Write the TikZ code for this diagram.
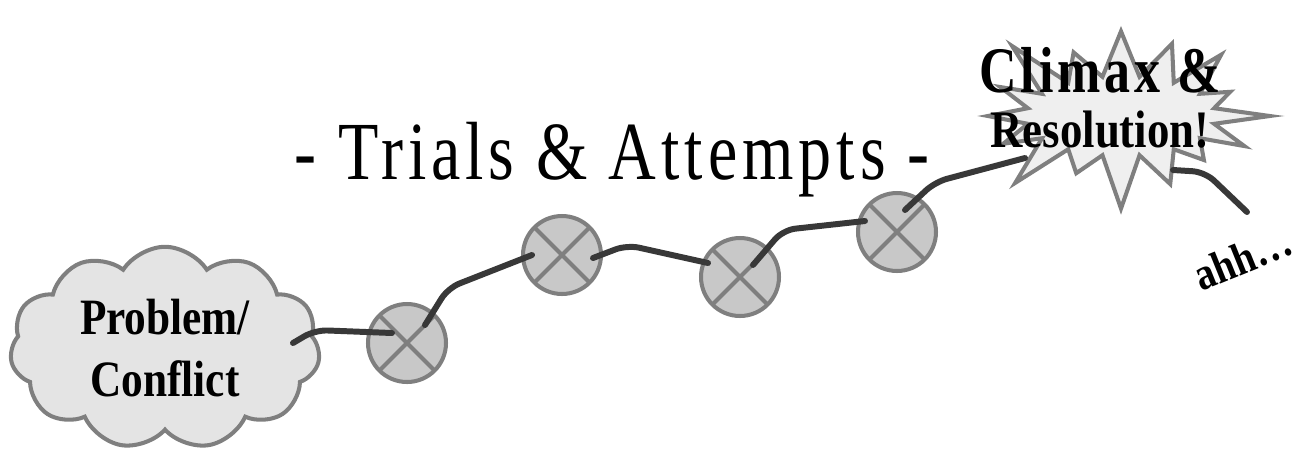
\documentclass[tikz,border=0pt]{standalone}
\usepackage{fontspec}
\usepackage{tikz}
\usetikzlibrary{calc,positioning,shapes.symbols}
\newfontfamily\storyfont{Liberation Serif}[FakeStretch=0.85]
\newfontfamily\spacedfont{Liberation Serif}[FakeStretch=0.8,LetterSpace=6]
\definecolor{StoryLine}{HTML}{383838}
\definecolor{StoryEdge}{HTML}{7F7F7F}
\definecolor{CloudFill}{HTML}{E4E4E4}
\definecolor{StepFill}{HTML}{C8C8C8}
\definecolor{BurstFill}{HTML}{EFEFEF}

\begin{document}
\begin{tikzpicture}[x=0.02cm,y=-0.02cm,
  every node/.style={font=\storyfont},
  link/.style={StoryLine,line width=3.4pt,line cap=round,line join=round,rounded corners=7pt},
  stepnode/.style={circle,draw=StoryEdge,fill=StepFill,line width=2.3pt,minimum size=1.56cm,inner sep=0pt,
    path picture={\draw[StoryEdge,line width=2.3pt] (path picture bounding box.north west)--(path picture bounding box.south east)
      (path picture bounding box.north east)--(path picture bounding box.south west);}},
  cloudnode/.style={cloud,cloud puffs=11,cloud puff arc=115,aspect=1.6,draw=StoryEdge,fill=CloudFill,line width=2.3pt,
    minimum width=6.2cm,minimum height=4.05cm,inner sep=0pt,align=center},
  burstnode/.style={starburst,starburst points=16,starburst point height=1.25cm,draw=StoryEdge,fill=BurstFill,
    line width=2.3pt,minimum width=6.3cm,minimum height=4.1cm,inner sep=0pt}]
\useasboundingbox (0,0) rectangle (1306,451);
% start, steps and ending
\node[cloudnode,font=\storyfont\bfseries\fontsize{29}{35}\selectfont] (prob) at (165,348) {Problem/\\Conflict};
\node[stepnode] (c1) at (407,343) {};
\node[stepnode] (c2) at (562,255) {};
\node[stepnode] (c3) at (740,277) {};
\node[stepnode] (c4) at (897,232) {};
\node[burstnode] (burst) at (1121,116) {};
\node[align=center,font=\storyfont\bfseries\fontsize{30}{34}\selectfont] (ending) at (1100,98)
  {{\spacedfont\bfseries\fontsize{37}{40}\selectfont Climax \&}\\[-3pt]Resolution!};
\node[font=\spacedfont\fontsize{47}{50}\selectfont] (title) at (612,160) {- Trials \& Attempts -};
\node[rotate=22,font=\storyfont\bfseries\fontsize{26}{30}\selectfont] (ahh) at (1243,258) {ahh\ldots};
% the story line
\draw[link] ($(prob)+(128,-5)$) -- ($(prob)+(150,-18)$) -- ($(c1)+(-15,-10)$);
\draw[link] ($(c1)+(18,-18)$) -- ($(c1)+(41,-55)$) -- ($(c2)+(-30,0)$);
\draw[link] ($(c2)+(31,3)$) -- ($(c2)+(65,-10)$) -- ($(c3)+(-32,-14)$);
\draw[link] ($(c3)+(13,-12)$) -- ($(c3)+(43,-47)$) -- ($(c4)+(-32,-11)$);
\draw[link] ($(c4)+(8,-22)$) -- ($(c4)+(38,-50)$) -- ($(burst)+(-96,42)$);
\draw[link] ($(burst)+(52,54)$) -- ($(burst)+(84,56)$) -- ($(ahh)+(4,-46)$);
\end{tikzpicture}
\end{document}
